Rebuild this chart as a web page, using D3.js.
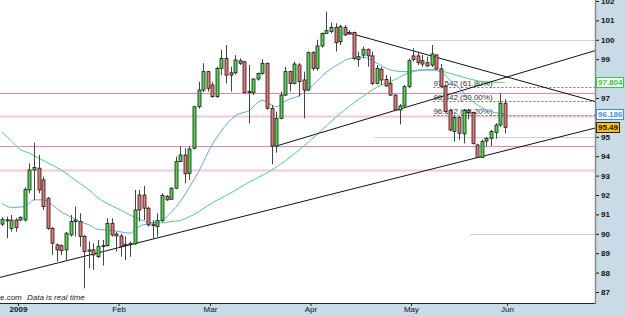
<!DOCTYPE html>
<html>
<head>
<meta charset="utf-8">
<script src="https://cdn.jsdelivr.net/npm/d3@7"></script>
<style>
  body { margin: 0; background: #fff; }
  svg { display: block; font-family: "Liberation Sans", Arial, sans-serif; }
</style>
</head>
<body>
<svg id="chart" width="625" height="316"></svg>
<script>
// daily bars, weekdays from 26 Dec 2008
const startDate = "2008-12-26";

const open = [
  90.50, 90.72, 90.28, 90.71, 90.71, 90.71, 92.26, 93.29, 93.38, 92.78,
  91.83, 90.28, 89.43, 89.39, 89.17, 89.94, 90.63, 90.63, 89.86, 89.10,
  89.17, 88.82, 89.39, 89.39, 90.54, 89.99, 89.89, 89.46, 89.44, 89.48,
  92.00, 92.00, 91.32, 90.50, 90.37, 90.68, 91.92, 91.78, 92.35, 93.72,
  94.06, 93.12, 94.41, 96.55, 97.41, 98.36, 97.67, 97.07, 98.53, 99.04,
  98.30, 98.30, 98.92, 98.87, 97.27, 97.27, 97.98, 98.27, 98.79, 96.47,
  94.52, 95.95, 97.15, 98.36, 97.75, 98.70, 97.93, 97.41, 99.34, 98.53,
  99.68, 100.33, 100.42, 100.64, 99.90, 100.64, 100.38, 100.38, 98.99, 99.21,
  99.51, 99.17, 97.75, 98.48, 97.96, 97.75, 97.15, 96.38, 96.59, 97.58,
  99.17, 99.17, 98.92, 98.82, 98.70, 99.22, 98.50, 97.60, 96.35, 95.27,
  96.00, 95.15, 96.35, 96.25, 94.58, 93.94, 94.78, 94.92, 95.22, 95.61,
  96.73
];
const high = [
  90.85, 90.88, 90.97, 90.80, 90.90, 92.40, 93.63, 94.70, 94.06, 92.95,
  91.90, 90.35, 89.50, 89.45, 90.10, 90.97, 91.40, 91.06, 89.95, 89.60,
  89.51, 89.68, 89.68, 90.80, 90.80, 90.10, 90.00, 89.86, 89.60, 92.26,
  92.26, 92.47, 91.40, 90.71, 91.06, 92.09, 92.00, 92.40, 93.98, 94.49,
  94.41, 94.49, 96.60, 97.84, 98.79, 98.40, 97.84, 98.60, 99.47, 99.73,
  98.61, 99.21, 99.04, 98.90, 98.70, 98.00, 98.30, 99.00, 98.82, 96.64,
  96.29, 97.33, 98.61, 98.40, 98.87, 98.80, 98.36, 99.40, 99.40, 100.00,
  100.37, 101.45, 100.88, 100.85, 100.76, 100.76, 100.50, 100.42, 99.39, 99.64,
  99.55, 99.39, 98.70, 98.60, 98.18, 98.10, 97.20, 96.69, 97.67, 99.04,
  99.56, 99.39, 99.22, 99.13, 99.73, 99.25, 98.75, 97.70, 96.45, 96.12,
  96.05, 96.42, 96.45, 96.30, 94.65, 94.85, 95.00, 95.35, 95.70, 97.24,
  96.93
];
const low = [
  90.40, 89.77, 90.11, 90.11, 90.65, 90.63, 92.09, 91.75, 92.09, 91.23,
  90.20, 88.91, 88.57, 88.90, 88.65, 89.86, 89.86, 89.34, 87.19, 88.22,
  88.14, 88.75, 88.36, 89.34, 89.86, 89.08, 88.82, 88.65, 88.82, 89.43,
  90.63, 90.71, 90.37, 89.77, 89.86, 90.60, 91.70, 91.75, 92.30, 93.70,
  92.60, 92.78, 94.35, 96.45, 97.30, 97.33, 97.00, 97.00, 98.18, 97.75,
  97.33, 98.20, 98.70, 97.24, 95.69, 97.15, 97.90, 98.20, 96.40, 93.58,
  94.18, 95.90, 97.10, 97.33, 97.70, 97.07, 95.95, 97.35, 98.40, 98.41,
  99.60, 100.30, 100.33, 99.39, 99.73, 100.20, 100.25, 98.96, 98.61, 99.04,
  98.61, 97.67, 97.70, 97.67, 97.58, 97.10, 96.35, 95.64, 96.50, 97.50,
  98.87, 98.70, 98.61, 98.61, 98.60, 98.45, 97.50, 96.25, 95.30, 94.75,
  94.84, 94.66, 95.90, 94.60, 93.90, 93.90, 94.50, 94.53, 94.90, 95.50,
  95.18
];
const close = [
  90.75, 90.70, 90.71, 90.32, 90.85, 92.29, 93.29, 93.42, 92.26, 91.40,
  90.28, 89.51, 89.17, 89.13, 90.03, 90.63, 90.71, 89.86, 89.08, 89.17,
  88.91, 89.34, 89.34, 90.54, 89.94, 89.89, 89.34, 89.39, 89.51, 91.23,
  91.23, 91.32, 90.46, 90.42, 90.68, 91.97, 91.75, 92.35, 93.72, 94.06,
  93.09, 94.37, 96.55, 97.41, 98.36, 97.50, 97.07, 98.53, 99.04, 98.18,
  98.18, 98.96, 98.79, 97.27, 97.33, 97.98, 98.27, 98.79, 96.47, 94.52,
  95.95, 97.15, 98.36, 97.75, 98.75, 97.84, 97.41, 99.34, 98.53, 99.68,
  100.33, 100.47, 100.64, 99.85, 100.68, 100.25, 100.30, 99.04, 99.13, 99.51,
  99.17, 97.75, 98.53, 97.93, 97.62, 97.15, 96.38, 96.59, 97.58, 98.92,
  98.99, 98.82, 98.75, 98.65, 99.27, 98.50, 97.60, 96.30, 95.35, 96.00,
  95.18, 96.35, 96.25, 94.66, 93.94, 94.75, 94.92, 95.27, 95.61, 96.73,
  95.49
];

// moving averages: [bar index, value]
const maFast = [
  [0, 91.57], [2, 91.36], [5, 91.40], [7, 91.75], [9, 91.75], [11, 91.50],
  [13, 91.12], [15, 90.88], [17, 90.63], [19, 90.47], [21, 90.22], [24, 90.18],
  [26, 90.10], [28, 90.03], [30, 90.38], [32, 90.53], [35, 90.70], [37, 91.10],
  [39, 91.66], [41, 92.40], [43, 93.20], [46, 94.60], [48, 95.30], [51, 96.08],
  [54, 96.35], [57, 96.88], [60, 96.55], [62, 96.85], [65, 97.12], [68, 97.65],
  [71, 98.33], [74, 98.79], [76, 99.03], [79, 99.10], [82, 98.80], [85, 98.44],
  [88, 98.36], [91, 98.44], [94, 98.47], [96, 98.34], [98, 97.93], [100, 97.52],
  [102, 97.03], [105, 96.50], [107, 96.30], [110, 96.19]
];
const maSlow = [
  [0, 95.25], [2, 94.80], [4, 94.35], [6, 94.15], [8, 93.90], [10, 93.66],
  [13, 93.28], [15, 92.95], [17, 92.60], [19, 92.27], [21, 91.85], [24, 91.45],
  [26, 91.22], [28, 90.97], [30, 90.76], [32, 90.60], [35, 90.57], [37, 90.63],
  [39, 90.68], [41, 90.88], [43, 91.13], [45, 91.45], [50, 92.10], [54, 92.65],
  [59, 93.28], [65, 94.32], [70, 95.35], [74, 96.20], [78, 96.92], [82, 97.55],
  [86, 97.95], [89, 98.30], [93, 98.44], [95, 98.43], [98, 98.27], [102, 98.00],
  [105, 97.85], [107, 97.82], [110, 97.80]
];

// trend lines: [[index, price], [index, price]]
const trendLines = [
  [[-0.44, 87.75], [129.76, 95.45]],
  [[75.5, 100.38], [129.76, 96.82]],
  [[60.1, 94.53], [129.76, 99.44]]
];

const hLevels = [97.24, 96.05, 94.53, 93.31];
const hLevelKind = ["strong", "soft", "strong", "soft"];
const greyLevels = [100, 95, 90];
const greyFrom = [89, 81.5, 102.5];

const fibLevels = [97.542, 96.842, 96.142];
const fibNames = ["97.542 (61.80%)", "96.842 (50.00%)", "96.142 (38.20%)"];
const fibFrom = 94.4;

const tagValues = [97.804, 96.186, 95.49];
const tagKind = ["green", "blue", "close"];

const W = 625, H = 316;
const plotR = 595, plotB = 303;

const svg = d3.select("#chart");

const x = d3.scaleLinear().domain([-0.44, 129.76]).range([0, plotR]);
const y = d3.scaleLinear().domain([87, 102]).range([292, 1]);

// weekday calendar for the x axis
const dates = [];
{
  let d = new Date(startDate + "T12:00:00");
  while (dates.length < 131) {
    const wd = d.getDay();
    if (wd !== 0 && wd !== 6) dates.push(new Date(d));
    d.setDate(d.getDate() + 1);
  }
}
const monthStarts = [];
dates.forEach((d, i) => {
  if (i > 0 && d.getMonth() !== dates[i - 1].getMonth()) monthStarts.push(i - 0.5);
});

// panels
svg.append("rect").attr("x", 0).attr("y", 0).attr("width", W).attr("height", H).attr("fill", "#c8dbe6");
svg.append("rect").attr("x", 0).attr("y", 0).attr("width", plotR).attr("height", plotB).attr("fill", "#fff");

svg.append("defs").append("clipPath").attr("id", "plot")
  .append("rect").attr("x", 0).attr("y", 0).attr("width", plotR).attr("height", plotB);

const g = svg.append("g").attr("clip-path", "url(#plot)");

// grey round-number lines
greyLevels.forEach((v, i) => {
  g.append("line")
    .attr("x1", x(greyFrom[i])).attr("x2", plotR)
    .attr("y1", Math.round(y(v)) + 0.5).attr("y2", Math.round(y(v)) + 0.5)
    .attr("stroke", "#cfcfcf").attr("stroke-width", 1);
});

// pink horizontal levels
hLevels.forEach((v, i) => {
  const soft = hLevelKind[i] === "soft";
  g.append("line")
    .attr("x1", 0).attr("x2", plotR)
    .attr("y1", Math.round(y(v)) + 0.5).attr("y2", Math.round(y(v)) + 0.5)
    .attr("stroke", soft ? "#f7c6da" : "#f083b6")
    .attr("stroke-width", soft ? 2 : 1);
});

// fibonacci levels
fibLevels.forEach((v, i) => {
  const yy = Math.round(y(v)) + 0.5;
  g.append("line")
    .attr("x1", x(fibFrom)).attr("x2", plotR)
    .attr("y1", yy).attr("y2", yy)
    .attr("stroke", "#777").attr("stroke-width", 1)
    .attr("stroke-dasharray", "2,2");
  g.append("text")
    .attr("x", x(fibFrom)).attr("y", yy - 1.5)
    .attr("font-size", 8).attr("fill", "#333")
    .text(fibNames[i]);
});

// moving averages
const maLine = d3.line().x(d => x(d[0])).y(d => y(d[1])).curve(d3.curveMonotoneX);
g.append("path").datum(maSlow).attr("d", maLine)
  .attr("fill", "none").attr("stroke", "#3ee06a").attr("stroke-width", 1);
g.append("path").datum(maFast).attr("d", maLine)
  .attr("fill", "none").attr("stroke", "#5aaaf0").attr("stroke-width", 1);

// trend lines
trendLines.forEach(t => {
  g.append("line")
    .attr("x1", x(t[0][0])).attr("y1", y(t[0][1]))
    .attr("x2", x(t[1][0])).attr("y2", y(t[1][1]))
    .attr("stroke", "#111").attr("stroke-width", 1);
});

// candles
const bars = d3.range(open.length);
const cx = i => Math.round(x(i)) + 0.5;

g.selectAll(".wick").data(bars).enter().append("line")
  .attr("class", "wick")
  .attr("x1", cx).attr("x2", cx)
  .attr("y1", i => y(high[i])).attr("y2", i => y(low[i]))
  .attr("stroke", "#444").attr("stroke-width", 1);

g.selectAll(".body").data(bars).enter().append("rect")
  .attr("class", "body")
  .attr("x", i => cx(i) - 1.5)
  .attr("width", 3)
  .attr("y", i => y(Math.max(open[i], close[i])))
  .attr("height", i => Math.max(1, Math.abs(y(open[i]) - y(close[i]))))
  .attr("fill", i => close[i] >= open[i] ? "#44e044" : "#ec7474")
  .attr("stroke", "#1a1a1a").attr("stroke-width", 0.8);

// watermark
g.append("text").attr("x", 0).attr("y", 300).attr("font-size", 8).attr("fill", "#222")
  .text("e.com");
g.append("text").attr("x", 27).attr("y", 300).attr("font-size", 8).attr("fill", "#222")
  .attr("font-style", "italic").text("Data is real time");

// bottom axis
const monthFmt = d3.timeFormat("%b");
const xAxis = d3.axisBottom(x)
  .tickValues(monthStarts.filter(v => x(v) > 0 && x(v) < plotR))
  .tickSize(3)
  .tickFormat(v => {
    const d = dates[Math.ceil(v)];
    return d.getMonth() === 0 ? d.getFullYear() : monthFmt(d);
  });
const ax = svg.append("g").attr("transform", `translate(0,${plotB})`).call(xAxis);
ax.select(".domain").remove();
ax.selectAll(".tick line").attr("stroke", "#222");
ax.selectAll(".tick text")
  .attr("font-family", "Liberation Sans, Arial, sans-serif")
  .attr("font-size", 8).attr("fill", "#111").attr("dy", "0.45em").attr("y", 5)
  .attr("font-weight", function () { return /^\d+$/.test(this.textContent) ? "bold" : "normal"; });

svg.append("line").attr("x1", 0).attr("x2", plotR + 1)
  .attr("y1", plotB + 0.5).attr("y2", plotB + 0.5)
  .attr("stroke", "#222").attr("stroke-width", 1);

// right axis: whole numbers, except where a price tag sits on top
const yTicks = d3.range(87, 103).filter(v => tagValues.every(t => Math.abs(y(t) - y(v)) > 6));
const yAxis = d3.axisRight(y).tickValues(yTicks).tickSize(3).tickPadding(2)
  .tickFormat(d3.format("d"));
const ay = svg.append("g").attr("transform", `translate(${plotR + 1},0)`).call(yAxis);
ay.select(".domain").remove();
ay.selectAll(".tick line").attr("stroke", "#111");
ay.selectAll(".tick text")
  .attr("font-family", "Liberation Sans, Arial, sans-serif")
  .attr("font-size", 8).attr("font-weight", "bold").attr("fill", "#111");

svg.append("line").attr("x1", plotR + 0.5).attr("x2", plotR + 0.5)
  .attr("y1", 0).attr("y2", plotB + 1)
  .attr("stroke", "#8a8a8a").attr("stroke-width", 1.5);

// price tags on the axis
const tagStyle = {
  green: { fill: "#fff", stroke: "#2ecc40", text: "#2ecc40" },
  blue: { fill: "#fff", stroke: "#3a8ee6", text: "#3a8ee6" },
  close: { fill: "#ffc200", stroke: "#222", text: "#111" }
};
tagValues.forEach((v, i) => {
  const s = tagStyle[tagKind[i]];
  const yy = y(v);
  const tg = svg.append("g");
  tg.append("rect")
    .attr("x", plotR + 1.5).attr("y", Math.round(yy - 5) + 0.5)
    .attr("width", tagKind[i] === "close" ? 23 : 27).attr("height", 10)
    .attr("fill", s.fill).attr("stroke", s.stroke).attr("stroke-width", 1);
  tg.append("text")
    .attr("x", plotR + 3).attr("y", yy + 3)
    .attr("font-size", 8).attr("font-weight", "bold").attr("fill", s.text)
    .text(String(v));
});
</script>
</body>
</html>
